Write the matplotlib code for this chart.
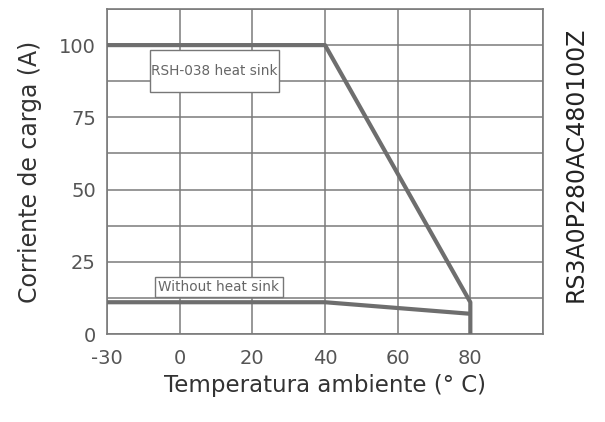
import numpy as np
import matplotlib.pyplot as plt
from matplotlib.patches import Rectangle

# temperature ticks (evenly spaced on the chart, not linear)
temp_ticks = [-30, 0, 20, 40, 60, 80]
current_ticks = [0, 25, 50, 75, 100]

# RSH-038 heat sink curve
sink_temp = [-30, 40, 80, 80]
sink_curr = [100, 100, 11, 0]

# without heat sink
bare_temp = [-30, 40, 80]
bare_curr = [11, 11, 7]

grey = '#6e6e6e'
txt = '#555555'


def tpos(t):
    # -30 sits one slot left of 0, the rest is 20 deg per slot
    t = np.asarray(t, dtype=float)
    return np.where(t < 0, t / 30.0 + 1, 1 + t / 20.0)


plt.rcParams['font.family'] = ['DejaVu Sans']
fig = plt.figure(figsize=(6.05, 4.22), dpi=100)
ax = fig.add_axes([0.177, 0.2085, 0.7205, 0.7702])

ax.plot(tpos(sink_temp), sink_curr, color=grey, lw=3, solid_capstyle='butt', zorder=3)
ax.plot(tpos(bare_temp), bare_curr, color=grey, lw=3, solid_capstyle='butt', zorder=3)

ax.set_xlim(0, 6)
ax.set_ylim(0, 112.5)
ax.set_xticks(tpos(temp_ticks))
ax.set_xticklabels([str(t) for t in temp_ticks])
ax.set_xticks(np.arange(0, 7), minor=True)
ax.set_yticks(current_ticks)
ax.set_yticks(np.arange(0, 112.6, 12.5), minor=True)
ax.grid(True, which='both', color='#7a7a7a', lw=1.1)
ax.tick_params(which='both', length=0, labelsize=14, labelcolor=txt)
ax.tick_params(axis='x', pad=11)
ax.tick_params(axis='y', pad=8)
for s in ax.spines.values():
    s.set_color('#7a7a7a')
    s.set_linewidth(1.2)

# label boxes
ax.add_patch(Rectangle((0.59, 83.8), 1.78, 14.5, fc='white', ec='#777777', lw=1, zorder=4))
ax.text(1.48, 91, 'RSH-038 heat sink', fontsize=9.8, color='#666666',
        ha='center', va='center', zorder=5)
ax.add_patch(Rectangle((0.66, 12.8), 1.76, 6.8, fc='white', ec='#777777', lw=1, zorder=4))
ax.text(1.54, 16.2, 'Without heat sink', fontsize=9.8, color='#666666',
        ha='center', va='center', zorder=5)

ax.set_ylabel('Corriente de carga (A)', fontsize=17, color='#333333', labelpad=12)
ax.set_xlabel('Temperatura ambiente (° C)', fontsize=16.5, color='#333333', labelpad=4)

fig.text(0.951, 0.61, 'RS3A0P280AC480100Z', rotation=90, fontsize=17,
         color='#222222', ha='center', va='center')

fig.savefig('out.png', dpi=100)
